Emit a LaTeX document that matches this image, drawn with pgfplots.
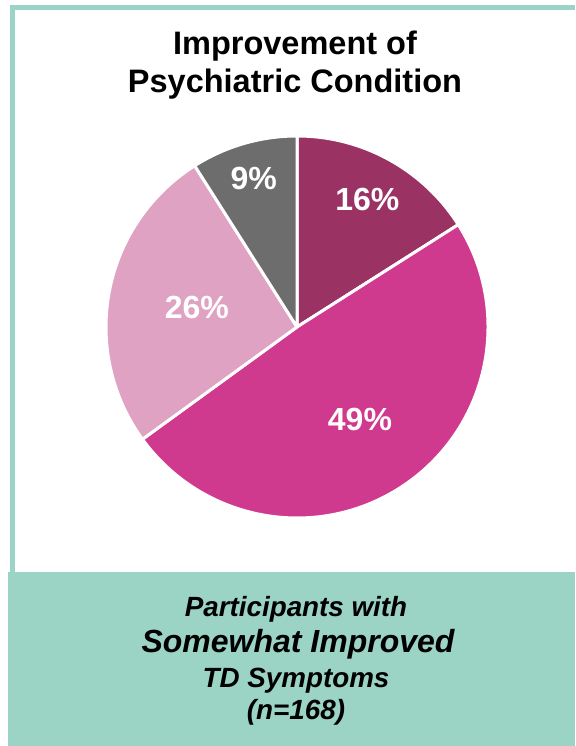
\documentclass[border=0pt]{standalone}
\usepackage{fontspec}
\setmainfont{Liberation Sans}
\usepackage{pgfplots}
\usepackage{pgfplotstable}
\pgfplotsset{compat=1.18}
\definecolor{tealbg}{HTML}{9BD3C5}
\definecolor{pieA}{HTML}{9A3364}
\definecolor{pieB}{HTML}{D03A8E}
\definecolor{pieC}{HTML}{E0A2C2}
\definecolor{pieD}{HTML}{6D6D6D}

% share (%), slice colour, label distance from centre
\pgfplotstableread{
value colour lr
16 pieA 146
49 pieB 112
26 pieC 102
9  pieD 155
}\piedata

\newcommand\fs[1]{\fontsize{#1}{#1}\selectfont}

\begin{document}
\begin{tikzpicture}
\begin{axis}[scale only axis, width=575pt, height=746pt,
  xmin=0, xmax=575, ymin=0, ymax=746, hide axis, clip=false]
 % frame and caption box
 \fill[white] (axis cs:0,0) rectangle (axis cs:575,746);
 \fill[tealbg] (axis cs:8,0) rectangle (axis cs:575,174);
 \fill[tealbg] (axis cs:10,174) rectangle (axis cs:15,741);
 \fill[tealbg] (axis cs:10,736) rectangle (axis cs:575,741);
 % title
 \node[anchor=base, font=\bfseries\fs{32.5}] at (axis cs:295,691) {Improvement of};
 \node[anchor=base, font=\bfseries\fs{32.5}] at (axis cs:295,653) {Psychiatric Condition};
 % caption
 \node[anchor=base, font=\bfseries\itshape\fs{27.8}] at (axis cs:296,129) {Participants with};
 \node[anchor=base, font=\bfseries\itshape\fs{32}] at (axis cs:298,93) {Somewhat Improved};
 \node[anchor=base, font=\bfseries\itshape\fs{27.8}] at (axis cs:296,58) {TD Symptoms};
 \node[anchor=base, font=\bfseries\itshape\fs{27.8}] at (axis cs:296,26) {(n=168)};
 % pie, clockwise from 12 o'clock
 \def\cumangle{90}
 \pgfplotsforeachungrouped \i in {0,...,3}{%
  \pgfplotstablegetelem{\i}{value}\of\piedata \let\pval\pgfplotsretval
  \pgfplotstablegetelem{\i}{colour}\of\piedata \let\pcol\pgfplotsretval
  \pgfplotstablegetelem{\i}{lr}\of\piedata \let\plr\pgfplotsretval
  \pgfmathsetmacro\angA{\cumangle}
  \pgfmathsetmacro\angB{\cumangle-3.6*\pval}
  \pgfmathsetmacro\angM{(\angA+\angB)/2}
  \pgfmathsetmacro\sx{297+191*cos(\angA)}
  \pgfmathsetmacro\sy{419+191*sin(\angA)}
  \pgfmathsetmacro\lx{297+\plr*cos(\angM)}
  \pgfmathsetmacro\ly{419+\plr*sin(\angM)}
  \edef\pieslice{%
   \noexpand\filldraw[fill=\pcol, draw=white, line width=3pt, line join=round]
    (axis cs:297,419) -- (axis cs:\sx,\sy) arc[start angle=\angA, end angle=\angB, radius=191pt] -- cycle;
   \noexpand\node[text=white, font=\noexpand\bfseries\noexpand\fs{32}]
    at (axis cs:\lx,\ly) {\pval\noexpand\%};}%
  \pieslice
  \global\let\cumangle\angB
 }
\end{axis}
\end{tikzpicture}
\end{document}
